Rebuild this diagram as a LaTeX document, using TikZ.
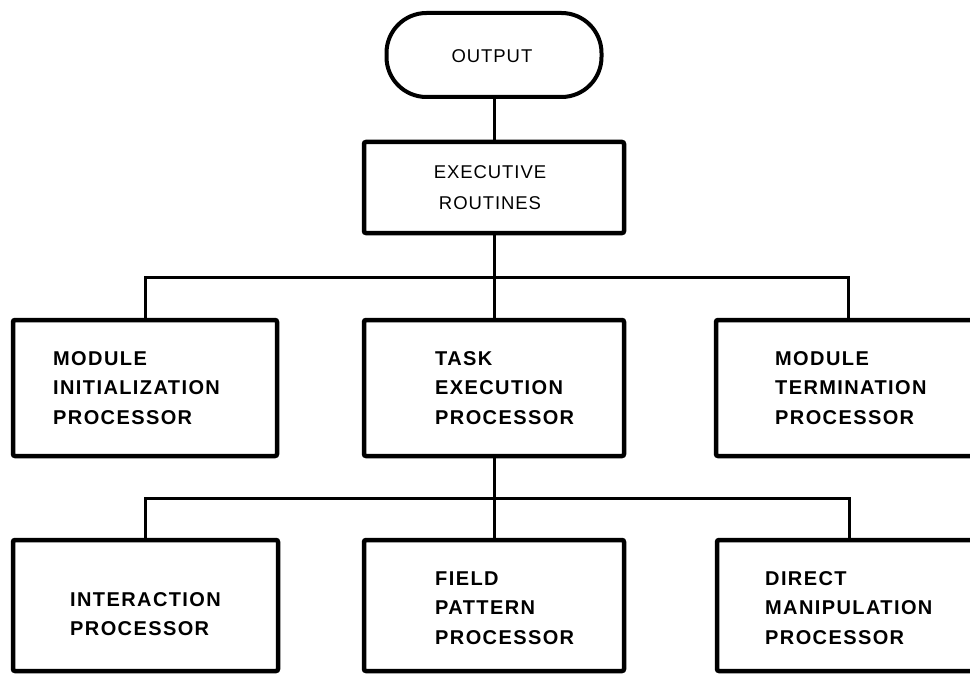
\documentclass[tikz,border=0pt]{standalone}
\usepackage{fontspec}
\setmainfont{Liberation Sans}
\begin{document}
\begin{tikzpicture}[x=1pt,y=-1pt,
  box/.style={draw, line width=4.5pt, rounded corners=2pt, inner sep=0pt},
  term/.style={draw, line width=4pt, rounded corners=40pt, inner sep=0pt},
  link/.style={line width=3pt},
  lbl/.style={font=\fontsize{20}{29.5}\selectfont\bfseries\addfontfeature{LetterSpace=7},
              align=left, anchor=west, inner sep=0pt},
  clbl/.style={font=\fontsize{18.5}{31}\selectfont\addfontfeature{LetterSpace=5},
               align=center, inner sep=0pt}]
\clip (0,0) rectangle (970,674);
\fill[white] (0,0) rectangle (970,674);

% terminal and executive
\node[term, minimum width=215pt, minimum height=84pt] (out) at (494,55) {};
\node[clbl] (outt) at (492,56) {OUTPUT};
\node[box, minimum width=260pt, minimum height=91pt] (exec) at (494,187.5) {};
\node[clbl] (exect) at (490,188) {EXECUTIVE\\ROUTINES};

% second level
\node[box, minimum width=264pt, minimum height=136pt] (init) at (145,388) {};
\node[box, minimum width=260pt, minimum height=136pt] (task) at (494,388) {};
\node[box, minimum width=264pt, minimum height=136pt] (term) at (848,388) {};
\node[lbl] (initt) at (53,388) {MODULE\\INITIALIZATION\\PROCESSOR};
\node[lbl] (taskt) at (435,388) {TASK\\EXECUTION\\PROCESSOR};
\node[lbl] (termt) at (775,388) {MODULE\\TERMINATION\\PROCESSOR};

% third level
\node[box, minimum width=265pt, minimum height=131pt] (inter) at (145.5,605.5) {};
\node[box, minimum width=260pt, minimum height=131pt] (field) at (494,605.5) {};
\node[box, minimum width=264pt, minimum height=131pt] (direct) at (849,605.5) {};
\node[lbl] (intert) at (70,614) {INTERACTION\\PROCESSOR};
\node[lbl] (fieldt) at (435,608) {FIELD\\PATTERN\\PROCESSOR};
\node[lbl] (directt) at (765,608) {DIRECT\\MANIPULATION\\PROCESSOR};

% connectors
\coordinate (bus1) at (494,277);
\coordinate (bus2) at (494,498);
\draw[link] (out.south) -- (exec.north);
\draw[link] (exec.south) -- (task.north);
\draw[link] (init.north) |- (bus1) -| (term.north);
\draw[link] (task.south) -- (field.north);
\draw[link] (inter.north) |- (bus2) -| (direct.north);
\end{tikzpicture}
\end{document}
